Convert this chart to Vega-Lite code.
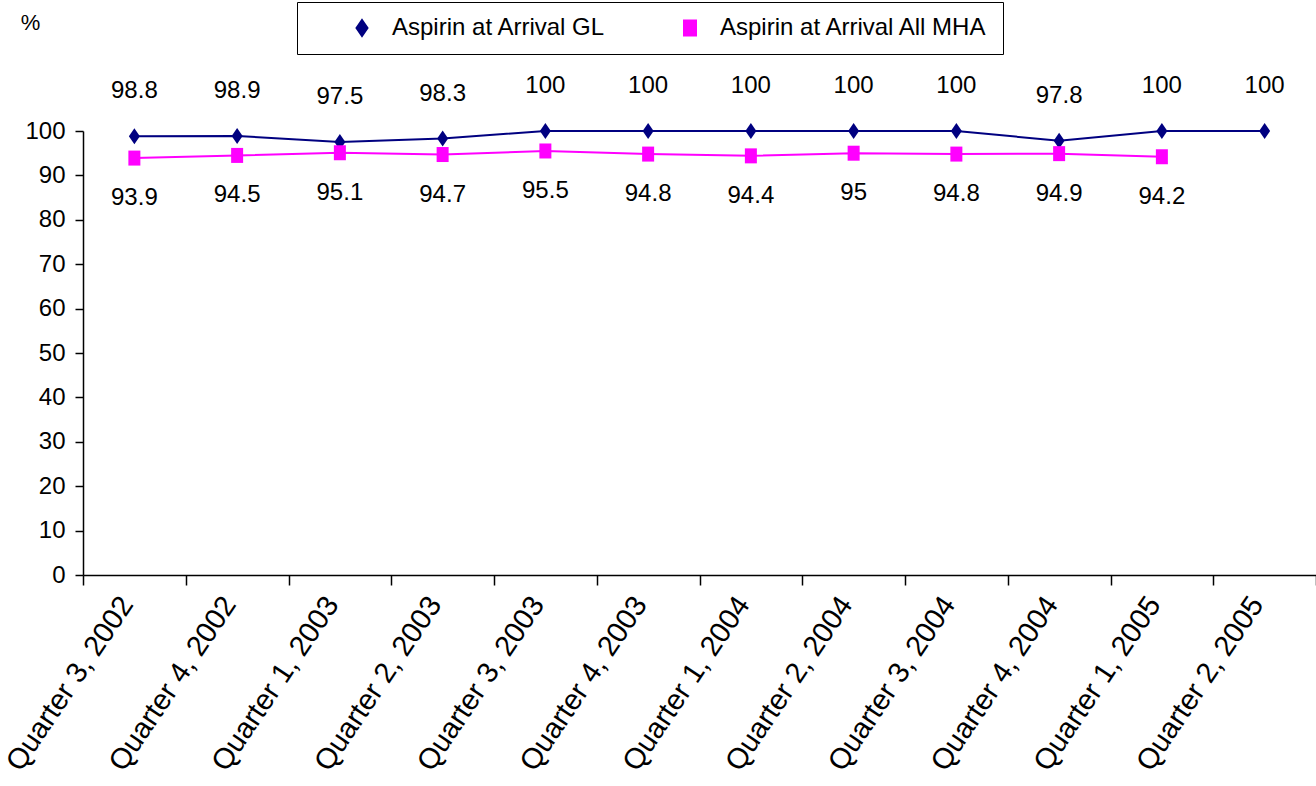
{
  "$schema": "https://vega.github.io/schema/vega-lite/v6.json",
  "width": 1233,
  "height": 444,
  "autosize": {"type": "none"},
  "padding": {"left": 83, "top": 131, "right": 0, "bottom": 211},
  "background": "white",
  "config": {
    "view": {"stroke": null},
    "font": "Liberation Sans, Arial, sans-serif"
  },
  "data": {
    "values": [
      {"quarter": "Quarter 3, 2002", "series": "Aspirin at Arrival GL", "value": 98.8},
      {"quarter": "Quarter 4, 2002", "series": "Aspirin at Arrival GL", "value": 98.9},
      {"quarter": "Quarter 1, 2003", "series": "Aspirin at Arrival GL", "value": 97.5},
      {"quarter": "Quarter 2, 2003", "series": "Aspirin at Arrival GL", "value": 98.3},
      {"quarter": "Quarter 3, 2003", "series": "Aspirin at Arrival GL", "value": 100},
      {"quarter": "Quarter 4, 2003", "series": "Aspirin at Arrival GL", "value": 100},
      {"quarter": "Quarter 1, 2004", "series": "Aspirin at Arrival GL", "value": 100},
      {"quarter": "Quarter 2, 2004", "series": "Aspirin at Arrival GL", "value": 100},
      {"quarter": "Quarter 3, 2004", "series": "Aspirin at Arrival GL", "value": 100},
      {"quarter": "Quarter 4, 2004", "series": "Aspirin at Arrival GL", "value": 97.8},
      {"quarter": "Quarter 1, 2005", "series": "Aspirin at Arrival GL", "value": 100},
      {"quarter": "Quarter 2, 2005", "series": "Aspirin at Arrival GL", "value": 100},
      {"quarter": "Quarter 3, 2002", "series": "Aspirin at Arrival All MHA", "value": 93.9},
      {"quarter": "Quarter 4, 2002", "series": "Aspirin at Arrival All MHA", "value": 94.5},
      {"quarter": "Quarter 1, 2003", "series": "Aspirin at Arrival All MHA", "value": 95.1},
      {"quarter": "Quarter 2, 2003", "series": "Aspirin at Arrival All MHA", "value": 94.7},
      {"quarter": "Quarter 3, 2003", "series": "Aspirin at Arrival All MHA", "value": 95.5},
      {"quarter": "Quarter 4, 2003", "series": "Aspirin at Arrival All MHA", "value": 94.8},
      {"quarter": "Quarter 1, 2004", "series": "Aspirin at Arrival All MHA", "value": 94.4},
      {"quarter": "Quarter 2, 2004", "series": "Aspirin at Arrival All MHA", "value": 95},
      {"quarter": "Quarter 3, 2004", "series": "Aspirin at Arrival All MHA", "value": 94.8},
      {"quarter": "Quarter 4, 2004", "series": "Aspirin at Arrival All MHA", "value": 94.9},
      {"quarter": "Quarter 1, 2005", "series": "Aspirin at Arrival All MHA", "value": 94.2}
    ]
  },
  "encoding": {
    "x": {
      "field": "quarter",
      "type": "nominal",
      "sort": null,
      "scale": {"paddingInner": 0, "paddingOuter": 0},
      "axis": {
        "title": null,
        "tickBand": "extent",
        "labelAngle": -56,
        "labelAlign": "right",
        "labelBaseline": "middle",
        "labelFontSize": 29,
        "labelColor": "black",
        "labelPadding": 14,
        "labelOffset": -8,
        "labelLimit": 400,
        "tickSize": 10,
        "tickColor": "black",
        "tickWidth": 1.5,
        "domainColor": "black",
        "domainWidth": 1.5,
        "grid": false
      }
    },
    "y": {
      "field": "value",
      "type": "quantitative",
      "scale": {"domain": [0, 100], "nice": false, "zero": true},
      "axis": {
        "title": "%",
        "titleAngle": 0,
        "titleX": -53,
        "titleY": -109,
        "titleAlign": "center",
        "titleBaseline": "middle",
        "titleFontSize": 22,
        "titleFontWeight": "normal",
        "titleColor": "black",
        "values": [0, 10, 20, 30, 40, 50, 60, 70, 80, 90, 100],
        "labelFontSize": 24,
        "labelColor": "black",
        "labelPadding": 10,
        "tickSize": 8,
        "tickColor": "black",
        "tickWidth": 1.5,
        "domainColor": "black",
        "domainWidth": 1.5,
        "grid": false
      }
    }
  },
  "layer": [
    {
      "mark": {"type": "line", "strokeWidth": 2},
      "encoding": {
        "color": {
          "field": "series",
          "type": "nominal",
          "scale": {
            "domain": ["Aspirin at Arrival GL", "Aspirin at Arrival All MHA"],
            "range": ["#000080", "#ff00ff"]
          }
        }
      }
    },
    {
      "mark": {"type": "point", "filled": true, "opacity": 1, "size": 100},
      "encoding": {
        "color": {
          "field": "series",
          "type": "nominal",
          "scale": {
            "domain": ["Aspirin at Arrival GL", "Aspirin at Arrival All MHA"],
            "range": ["#000080", "#ff00ff"]
          },
          "legend": {
            "title": null,
            "orient": "none",
            "legendX": 214,
            "legendY": -129,
            "direction": "horizontal",
            "columns": 2,
            "strokeColor": "black",
            "fillColor": "white",
            "padding": 14,
            "symbolSize": 100,
            "symbolStrokeWidth": 2,
            "symbolOffset": 39,
            "columnPadding": 33,
            "labelOffset": 18,
            "labelFontSize": 24,
            "labelColor": "black",
            "labelLimit": 600,
            "labelExpr": "datum.label + '\u00a0\u00a0\u00a0\u00a0\u00a0\u00a0'",
            "encode": {
              "legend": {"strokeWidth": {"value": 2}}
            }
          }
        },
        "shape": {
          "field": "series",
          "type": "nominal",
          "scale": {
            "domain": ["Aspirin at Arrival GL", "Aspirin at Arrival All MHA"],
            "range": ["M0,-1.6L1.1,0L0,1.6L-1.1,0Z", "M-1.2,-1.5H1.2V1.5H-1.2Z"]
          },
          "legend": null
        }
      }
    },
    {
      "transform": [{"filter": "datum.series === 'Aspirin at Arrival GL'"}],
      "mark": {"type": "text", "dy": -45, "fontSize": 24, "color": "black"},
      "encoding": {"text": {"field": "value", "type": "quantitative", "format": "~g"}}
    },
    {
      "transform": [{"filter": "datum.series === 'Aspirin at Arrival All MHA'"}],
      "mark": {"type": "text", "dy": 40, "fontSize": 24, "color": "black"},
      "encoding": {"text": {"field": "value", "type": "quantitative", "format": "~g"}}
    }
  ]
}
